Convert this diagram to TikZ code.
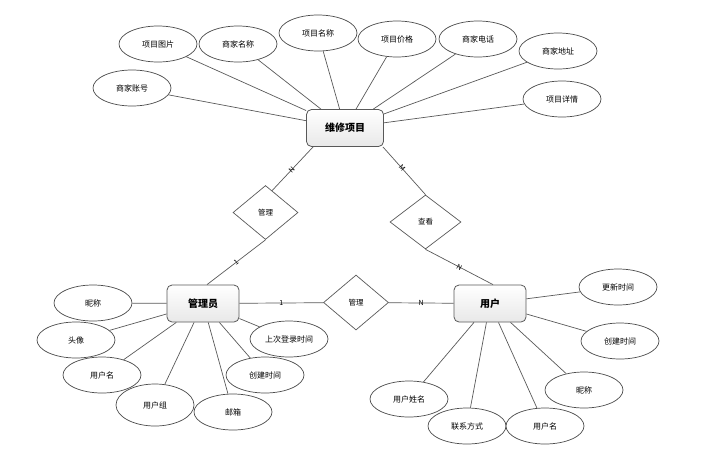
\documentclass[tikz,border=0pt]{standalone}
\usepackage{fontspec}
\setmainfont{Noto Sans CJK SC}
\usetikzlibrary{shapes.geometric,calc}
\begin{document}
\begin{tikzpicture}[x=1pt,y=-1pt,
  attr/.style={ellipse,draw=black!70,fill=white,line width=0.7pt,minimum width=78pt,minimum height=36pt,inner sep=0pt,font=\fontsize{8}{9}\selectfont},
  ent/.style={rectangle,rounded corners=5pt,draw=black!65,line width=0.8pt,top color=white,bottom color=black!9,minimum width=72pt,minimum height=37pt,font=\fontsize{10}{12}\selectfont\bfseries},
  rel/.style={diamond,draw=black!65,fill=white,line width=0.7pt,minimum width=68pt,minimum height=54pt,inner sep=0pt,font=\fontsize{7.5}{9}\selectfont},
  conn/.style={draw=black!65,line width=0.7pt},
  card/.style={font=\fontsize{7}{8}\selectfont,sloped,inner sep=0pt}]
\useasboundingbox (0,0) rectangle (708,464);
% entities
\node[ent,minimum width=77pt] (wx) at (345,128) {维修项目};
\node[ent] (gly) at (203,303.5) {管理员};
\node[ent] (yh) at (490,303.5) {用户};
% relations
\node[rel,minimum width=65pt] (gl1) at (265.5,212.5) {管理};
\node[rel,minimum width=71pt] (ck) at (425.5,222) {查看};
\node[rel,minimum width=65pt,minimum height=55pt] (gl2) at (356,302.5) {管理};
% attributes of 维修项目
\node[attr] (a1) at (158,44) {项目图片};
\node[attr] (a2) at (238,44) {商家名称};
\node[attr] (a3) at (318,33) {项目名称};
\node[attr] (a4) at (132,88) {商家账号};
\node[attr] (a5) at (397,39) {项目价格};
\node[attr] (a6) at (478,39) {商家电话};
\node[attr] (a7) at (558,51) {商家地址};
\node[attr] (a8) at (562,99) {项目详情};
% attributes of 管理员
\node[attr] (b1) at (93,303) {昵称};
\node[attr] (b2) at (76,340) {头像};
\node[attr] (b3) at (102,375) {用户名};
\node[attr,minimum height=42pt] (b4) at (155,405) {用户组};
\node[attr] (b5) at (233,412) {邮箱};
\node[attr] (b6) at (265,375) {创建时间};
\node[attr] (b7) at (289,339) {上次登录时间};
% attributes of 用户
\node[attr] (c1) at (618,287) {更新时间};
\node[attr] (c2) at (620,341) {创建时间};
\node[attr] (c3) at (584,390) {昵称};
\node[attr] (c4) at (409,399) {用户姓名};
\node[attr] (c5) at (467,426) {联系方式};
\node[attr] (c6) at (545,426) {用户名};
% connectors
\foreach \a in {a1,a2,a3,a4,a5,a6,a7,a8} \draw[conn] (wx) -- (\a);
\foreach \a in {b1,b2,b3,b4,b5,b6,b7} \draw[conn] (gly) -- (\a);
\foreach \a in {c1,c2,c3,c4,c5,c6} \draw[conn] (yh) -- (\a);
\draw[conn] ([xshift=7pt]wx.south west) -- node[card,pos=0.52] {N} ($(gl1.north)!0.2!(gl1.east)$);
\draw[conn] (gl1.south) -- node[card,pos=0.5] {1} ([xshift=4pt]gly.north);
\draw[conn] ([xshift=-1pt]wx.south east) -- node[card,pos=0.45] {M} (ck.north);
\draw[conn] (ck.south) -- node[card,pos=0.5] {N} ([xshift=3pt]yh.north);
\draw[conn] (gly) -- node[card,pos=0.5] {1} (gl2);
\draw[conn] (gl2) -- node[card,pos=0.5] {N} (yh);
\end{tikzpicture}
\end{document}
